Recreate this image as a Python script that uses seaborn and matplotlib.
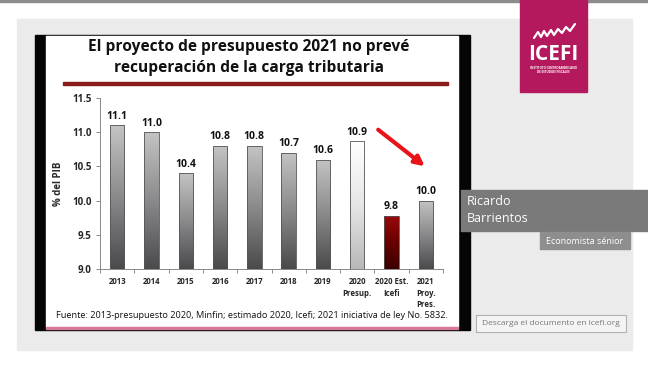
import numpy as np
import matplotlib
matplotlib.use("Agg")
import matplotlib.pyplot as plt
import seaborn as sns
from matplotlib.patches import Rectangle, FancyArrowPatch
from matplotlib.colors import LinearSegmentedColormap

# ── data ──────────────────────────────────────────────────────────────────
categories = ["2013", "2014", "2015", "2016", "2017", "2018", "2019",
              "2020\nPresup.", "2020 Est.\nIcefi", "2021\nProy.\nPres."]
values = [11.1, 11.0, 10.4, 10.8, 10.8, 10.7, 10.6, 10.87, 9.78, 10.0]
value_labels = ["11.1", "11.0", "10.4", "10.8", "10.8", "10.7", "10.6",
                "10.9", "9.8", "10.0"]
bar_kind = ["gray"] * 7 + ["white", "red", "gray"]
y_ticks = [9.0, 9.5, 10.0, 10.5, 11.0, 11.5]

W, H = 648, 365

sns.set_theme(style="white")
plt.rcParams["font.family"] = ["Open Sans", "DejaVu Sans"]

fig = plt.figure(figsize=(W / 100, H / 100), dpi=100)
fig.patch.set_facecolor("white")


def px_rect(x0, y0, x1, y1, **kw):
    # rectangle given in picture pixels (y from top)
    fig.patches.append(Rectangle((x0 / W, 1 - y1 / H), (x1 - x0) / W,
                                 (y1 - y0) / H, transform=fig.transFigure, **kw))


def px_text(x, y, s, **kw):
    fig.text(x / W, 1 - y / H, s, **kw)


# ── video frame background ────────────────────────────────────────────────
px_rect(0, 0, W, 1.5, color="#8c8c8c", zorder=0)
px_rect(17, 19, 632, 350, color="#ebebeb", zorder=0)
px_rect(35, 35, 470, 330, color="#050505", zorder=1)
px_rect(46, 36, 458, 327, color="white", zorder=2)
px_rect(46, 327, 458, 329, color="#d77a98", zorder=3)

# ── slide title ───────────────────────────────────────────────────────────
px_text(249, 47, "El proyecto de presupuesto 2021 no prevé", ha="center",
        va="center", fontsize=11.2, fontweight="bold", color="#111", zorder=4)
px_text(249, 68.5, "recuperación de la carga tributaria", ha="center",
        va="center", fontsize=11.2, fontweight="bold", color="#111", zorder=4)
px_rect(63, 82, 448, 84.5, color="#8b1a1a", zorder=4)

# ── chart ─────────────────────────────────────────────────────────────────
ax = fig.add_axes([100 / W, 1 - 269 / H, 343 / W, 171 / H])
ax.set_zorder(5)
ax.patch.set_alpha(0)

sns.barplot(x=categories, y=values, color="#888888", width=0.42,
            edgecolor="#555555", linewidth=0.6, ax=ax)

ax.set_yticks(y_ticks)
ax.set_yticklabels([f"{t:.1f}" for t in y_ticks], fontsize=7, fontweight="bold")
ax.tick_params(axis="x", labelsize=5.6, length=0, pad=6)
for lab in ax.get_xticklabels():
    lab.set_fontweight("bold")
    lab.set_linespacing(1.35)
ax.tick_params(axis="y", length=3, width=0.6, color="#777", left=True, pad=3)
ax.set_xticks(np.arange(len(categories) + 1) - 0.5, minor=True)
ax.tick_params(axis="x", which="minor", length=3, width=0.6, color="#777",
               bottom=True)
ax.set_ylabel("% del PIB", fontsize=7, fontweight="bold", labelpad=6)
ax.set_xlabel("")
sns.despine(ax=ax)
for sp in ["left", "bottom"]:
    ax.spines[sp].set_color("#888")
    ax.spines[sp].set_linewidth(0.7)

cmaps = {
    "gray": LinearSegmentedColormap.from_list("g", ["#4a4a4c", "#8a8a8c", "#c4c4c4"]),
    "white": LinearSegmentedColormap.from_list("w", ["#b8b8b8", "#e6e6e6", "#ffffff"]),
    "red": LinearSegmentedColormap.from_list("r", ["#3a0000", "#6a0000", "#9a0a0a"]),
}
grad = np.linspace(0, 1, 256).reshape(-1, 1)
for i, patch in enumerate(ax.patches):
    x0 = patch.get_x()
    w = patch.get_width()
    im = ax.imshow(grad, cmap=cmaps[bar_kind[i]], origin="lower", aspect="auto",
                   extent=[x0, x0 + w, 9.0, values[i]], zorder=2)
    im.set_clip_path(patch)
    patch.set_zorder(3)
    patch.set_facecolor("none")
    ax.text(x0 + w / 2, values[i] + 0.05, value_labels[i],
            ha="center", va="bottom", fontsize=7.5, fontweight="bold", color="#111")

ax.set_xlim(-0.5, len(categories) - 0.5)
ax.set_ylim(9.0, 11.5)

# red arrow
arrow = FancyArrowPatch((376 / W, 1 - 128 / H), (427 / W, 1 - 168 / H),
                        transform=fig.transFigure, arrowstyle="-|>",
                        mutation_scale=14, lw=3, color="#e8141a", zorder=6)
fig.patches.append(arrow)

px_text(252, 316, "Fuente: 2013-presupuesto 2020, Minfin; estimado 2020, Icefi; "
        "2021 iniciativa de ley No. 5832.", ha="center", va="center",
        fontsize=6.6, color="#111", zorder=4)

# ── ICEFI logo ────────────────────────────────────────────────────────────
px_rect(520, 0, 587, 92, color="#b3195c", zorder=2)
zx = np.array([534, 538, 541, 544, 547, 551, 554, 558, 562, 566, 570, 575])
zy = np.array([38, 32, 37, 31, 36, 30, 35, 29, 33, 27, 31, 24])
fig.lines.append(plt.Line2D(zx / W, 1 - zy / H, transform=fig.transFigure,
                            color="white", lw=1.6, zorder=3))
px_text(553, 54, "ICEFI", ha="center", va="center", fontsize=15,
        fontweight="bold", color="white", zorder=3)
px_text(553, 70, "INSTITUTO CENTROAMERICANO\nDE ESTUDIOS FISCALES",
        ha="center", va="center", fontsize=2.2, color="white",
        fontweight="bold", zorder=3)

# ── presenter captions ────────────────────────────────────────────────────
px_rect(461, 190, 648, 231, color="#7a7a7a", zorder=2)
px_text(467, 202, "Ricardo", ha="left", va="center", fontsize=9,
        color="white", zorder=3)
px_text(467, 219, "Barrientos", ha="left", va="center", fontsize=9,
        color="white", zorder=3)
px_rect(540, 232, 630, 249, color="#8e8e8e", zorder=2)
px_text(585, 241, "Economista sénior", ha="center", va="center",
        fontsize=6.5, color="white", zorder=3)
px_rect(476, 315, 626, 332, facecolor="#f4f4f4", edgecolor="#b0b0b0",
        lw=0.8, zorder=2)
px_text(551, 323.5, "Descarga el documento en icefi.org", ha="center",
        va="center", fontsize=6, color="#777", zorder=3)

fig.savefig("out.png", dpi=100)
